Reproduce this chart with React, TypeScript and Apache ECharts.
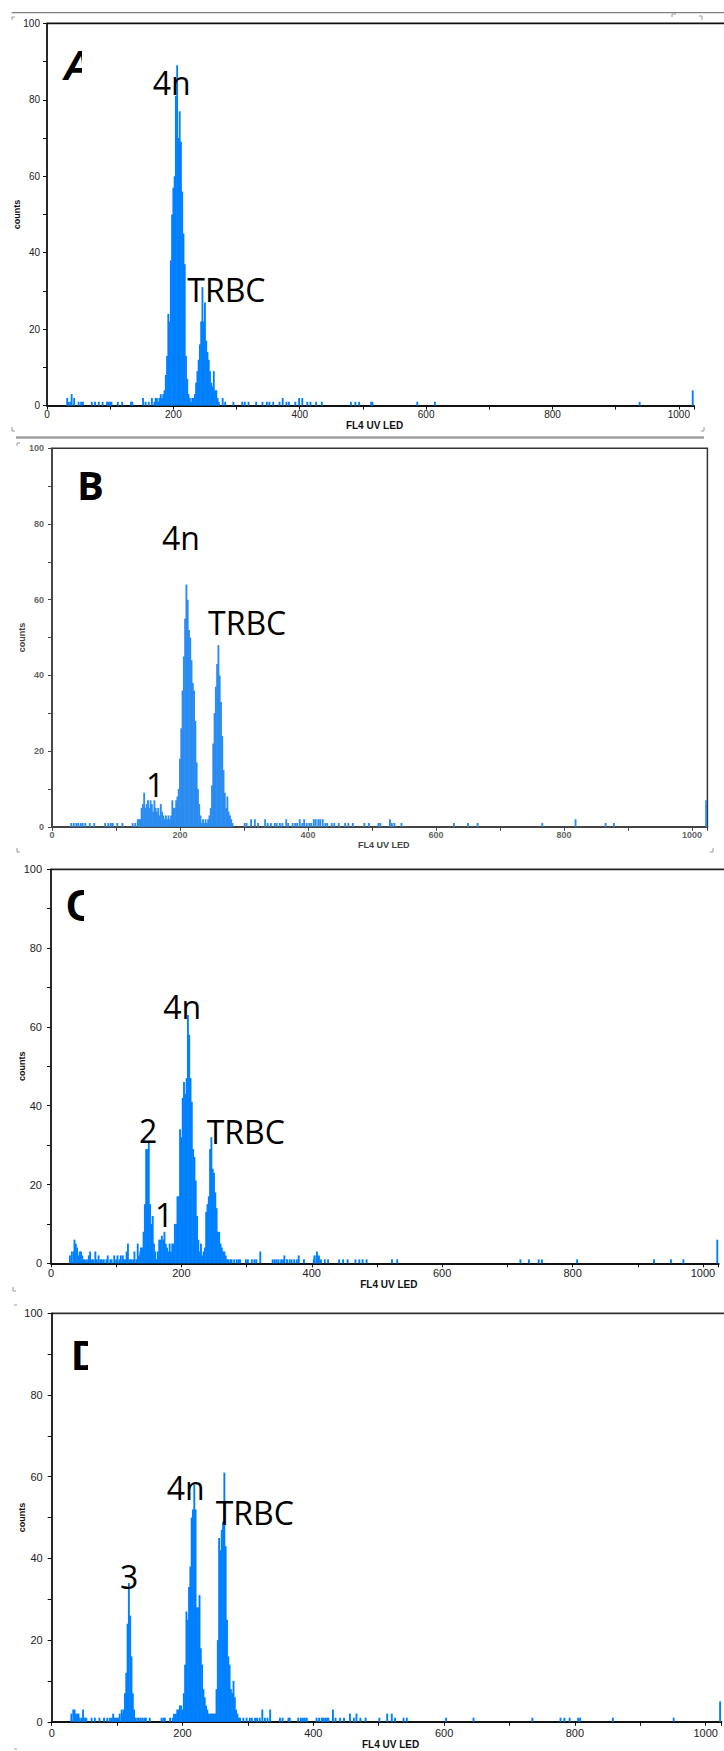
import React, { useEffect, useRef } from "react";
import * as echarts from "echarts";

const BIN = 2;

// ---------- Panel A ----------
const aNoise: [number, number][] = [
  [32, 2], [34, 1], [37, 1], [39, 3], [43, 2], [50, 1], [54, 1], [57, 1], [71, 1], [76, 1],
  [82, 1], [88, 1], [95, 1], [98, 1], [100, 1], [102, 1], [112, 1], [119, 1], [133, 1], [135, 1],
  [152, 2], [156, 1], [161, 1], [166, 2], [278, 2], [282, 1], [295, 1], [309, 1], [313, 1], [319, 1],
  [331, 1], [341, 1], [348, 1], [352, 1], [358, 1], [368, 1], [373, 2], [379, 1], [383, 1], [393, 1],
  [399, 2], [404, 2], [412, 1], [417, 1], [426, 1], [435, 1], [481, 1], [488, 1], [494, 1], [513, 1],
  [515, 1], [586, 1], [614, 1], [938, 1], [1022, 4],
];
const aPeakStart = 170;
const aPeakCounts = [
  1, 2, 2, 1, 2, 3, 2, 3, 4, 8, 13, 24, 22,
  38, 50, 57, 60, 81, 89, 70, 77, 69, 56, 45, 37, 13, 7, 3, 2,
  1, 2, 2, 3, 6, 9, 12, 16, 22, 31, 22, 27, 17, 14, 12, 9, 6, 5, 9, 4, 4, 2, 1,
];

// ---------- Panel B ----------
const bNoise: [number, number][] = [
  [30, 1], [34, 1], [38, 1], [41, 1], [45, 1], [48, 1], [52, 1], [59, 1], [66, 1], [83, 1],
  [88, 1], [92, 1], [95, 1], [102, 1], [110, 1], [126, 1], [301, 1], [304, 1], [311, 2], [317, 2],
  [322, 1], [333, 2], [337, 1], [342, 1], [348, 1], [351, 1], [356, 1], [360, 1], [366, 2], [369, 1],
  [376, 1], [380, 1], [383, 1], [387, 2], [391, 1], [394, 2], [398, 1], [402, 1], [405, 1], [409, 2],
  [412, 2], [416, 2], [419, 2], [423, 2], [427, 1], [430, 1], [437, 1], [441, 1], [448, 1], [458, 1],
  [463, 1], [470, 1], [488, 1], [495, 1], [510, 1], [513, 1], [528, 2], [531, 1], [535, 1], [546, 1],
  [628, 1], [650, 1], [665, 1], [766, 1], [818, 2], [865, 1], [878, 1], [1022, 7],
];
const bPeakStart = 130;
const bPeakCounts = [
  1, 0, 2, 2, 2, 5, 6, 9, 5, 6, 7, 5, 7, 6, 4, 7, 5, 4, 5, 3, 6, 4, 3, 2, 3, 2, 3, 2, 3, 7, 5,
  5, 7, 8, 10, 18, 26, 36, 45, 55, 64, 60, 52, 50, 44, 38, 36, 28, 17, 10, 6, 3, 1,
  2, 1, 2, 1, 2,
  3, 5, 11, 22, 30, 37, 43, 48, 40, 33, 24, 15, 9, 5, 8, 4, 3, 2, 1,
];

// ---------- Panel C ----------
const cNoise: [number, number][] = [
  [29, 2], [32, 3], [35, 3], [36, 6], [38, 5], [40, 4], [42, 2], [44, 3], [46, 3], [48, 2],
  [50, 1], [52, 1], [55, 1], [58, 2], [60, 3], [63, 1], [65, 1], [68, 3], [70, 1], [73, 2],
  [76, 1], [78, 1], [81, 1], [85, 1], [87, 2], [91, 1], [93, 1], [97, 2], [100, 1], [102, 2],
  [105, 1], [107, 2], [110, 2], [112, 1], [115, 1], [116, 3], [118, 5], [121, 1], [123, 1], [126, 1],
  [128, 3], [131, 1], [133, 5], [135, 2], [137, 3],
  [272, 1], [275, 1], [277, 1], [281, 1], [285, 1], [288, 1], [290, 1], [299, 1], [302, 1], [308, 1],
  [312, 1], [315, 1], [321, 3], [340, 1], [343, 1], [346, 1], [349, 1], [353, 1], [356, 1], [358, 2],
  [362, 1], [366, 1], [369, 1], [373, 1], [377, 1], [380, 2], [388, 1], [403, 1], [404, 2], [407, 2],
  [408, 3], [411, 2], [414, 1], [420, 1], [425, 1], [442, 1], [448, 1], [455, 1], [467, 1], [473, 1],
  [478, 1], [484, 1], [523, 1], [531, 1], [720, 1], [733, 1], [748, 1], [753, 1], [807, 1], [925, 1],
  [951, 1], [970, 1], [1022, 6],
];
const cPeakStart = 138;
const cPeakCounts = [
  4, 4, 8, 15, 29, 29, 31, 15, 10, 12, 5, 3, 1, 3,
  6, 6, 7, 6, 8, 5, 4, 3, 5, 3, 5, 5, 10,
  10, 17, 17, 34, 32, 42, 46, 43, 47, 63, 58, 47, 41, 29, 27, 21, 12, 6, 3, 5, 2, 3, 4,
  13, 15, 17, 29, 32, 24, 23, 18, 14, 8, 8, 5, 4, 3, 3, 2, 1,
];

// ---------- Panel D ----------
const dNoise: [number, number][] = [
  [30, 2], [33, 3], [35, 3], [37, 2], [39, 2], [41, 2], [43, 1], [46, 1], [48, 3], [51, 1],
  [53, 1], [61, 1], [66, 1], [73, 1], [80, 1], [85, 1], [89, 1], [92, 1], [94, 2], [96, 1],
  [98, 1], [100, 1], [102, 1], [104, 2], [107, 3], [131, 1], [133, 1], [136, 1], [139, 1], [142, 1],
  [144, 1], [150, 1], [168, 1], [171, 1], [173, 1], [181, 1], [185, 1], [187, 2], [189, 1],
  [288, 1], [293, 1], [298, 1], [303, 1], [306, 1], [311, 1], [314, 1], [318, 1], [322, 3], [326, 1],
  [330, 1], [334, 3], [349, 1], [353, 1], [362, 1], [364, 1], [377, 1], [381, 1], [384, 1], [387, 1],
  [390, 1], [405, 1], [409, 1], [413, 1], [415, 1], [418, 1], [421, 1], [423, 1], [430, 3], [434, 1],
  [441, 1], [447, 1], [456, 2], [462, 1], [466, 2], [472, 1], [480, 1], [501, 1], [513, 2], [520, 2],
  [525, 1], [538, 1], [543, 1], [603, 1], [645, 1], [735, 1], [778, 1], [784, 1], [792, 1], [805, 1],
  [808, 1], [858, 1], [951, 1], [1022, 5],
];
const dPeak3Start = 108;
const dPeak3Counts = [2, 3, 7, 12, 24, 34, 26, 16, 7, 3, 1];
const dMainStart = 190;
const dMainCounts = [
  2, 3, 3, 4, 4, 3, 7, 14, 27, 25, 33, 38, 50, 52, 58, 52, 28, 28, 31, 18, 14, 8, 6, 4, 3,
  2, 2, 2, 2, 2, 2, 8, 20, 45, 42, 47, 49, 61, 43, 25, 16, 14, 8, 7, 10, 6, 3, 2, 1,
];

const xAxisName = "FL4 UV LED";
const yAxisName = "counts";

function expand(start: number, counts: number[]): [number, number][] {
  return counts.map((c, i) => [start + i * BIN, c] as [number, number]);
}

const panelData: [number, number][][] = [
  [...aNoise, ...expand(aPeakStart, aPeakCounts)],
  [...bNoise, ...expand(bPeakStart, bPeakCounts)],
  [...cNoise, ...expand(cPeakStart, cPeakCounts)],
  [...dNoise, ...expand(dPeak3Start, dPeak3Counts), ...expand(dMainStart, dMainCounts)],
];

const grids = [
  { left: 47, top: 23.3, width: 647, height: 382.3 },
  { left: 52, top: 448.3, width: 655.4, height: 378.5 },
  { left: 51, top: 869.3, width: 667.6, height: 394 },
  { left: 51.7, top: 1313.3, width: 669.7, height: 408.5 },
];

const styles = [
  { color: "#0080ff", labelSize: 10, labelColor: "#222", labelWeight: "normal", line: "#111", xMargin: 4, yMargin: 7, nameGap: 15, nameSize: 10, nameColor: "#111", yNameGap: 26 },
  { color: "#2a8cf0", labelSize: 9, labelColor: "#666", labelWeight: "bold", line: "#444", xMargin: 4, yMargin: 8, nameGap: 14, nameSize: 9, nameColor: "#444", yNameGap: 26 },
  { color: "#0080ff", labelSize: 11, labelColor: "#222", labelWeight: "normal", line: "#111", xMargin: 4, yMargin: 9, nameGap: 16, nameSize: 10, nameColor: "#111", yNameGap: 25 },
  { color: "#0080ff", labelSize: 11, labelColor: "#222", labelWeight: "normal", line: "#111", xMargin: 6, yMargin: 9, nameGap: 17, nameSize: 10, nameColor: "#111", yNameGap: 25 },
];

function txt(text: string, x: number, y: number, font: string, z = 10) {
  return {
    type: "text",
    z,
    style: {
      text, x, y, font, fill: "#000",
      align: "left", verticalAlign: "middle",
      textAlign: "left", textVerticalAlign: "middle",
    },
  };
}
function hline(x1: number, y: number, x2: number, stroke: string, lineWidth: number) {
  return { type: "line", shape: { x1, y1: y, x2, y2: y }, style: { stroke, lineWidth } };
}
function mark(points: number[][]) {
  return { type: "polyline", shape: { points }, style: { stroke: "#9a9a9a", lineWidth: 1, fill: null } };
}
function mask(x: number, y: number, w: number, h: number) {
  return { type: "rect", z: 11, shape: { x, y, width: w, height: h }, style: { fill: "#fff" } };
}

const LABEL_FONT = '32px "Open Sans"';

export default function App() {
  const ref = useRef<HTMLDivElement>(null);
  useEffect(() => {
    document.body.style.margin = "0";
    if (!ref.current) return;
    const chart = echarts.init(ref.current, null, { renderer: "svg" });

    const option: any = {
      animation: false,
      backgroundColor: "#fff",
      grid: grids.map((g, i) => ({
        ...g,
        outerBoundsMode: "none",
        containLabel: false,
        show: i === 1,
        borderColor: "#333",
        borderWidth: 1.5,
        backgroundColor: "transparent",
      })),
      xAxis: grids.map((_, i) => {
        const s = styles[i];
        return {
          type: "value",
          gridIndex: i,
          min: 0,
          max: 1024,
          interval: 100,
          name: xAxisName,
          nameLocation: "middle",
          nameGap: s.nameGap,
          nameTextStyle: { fontFamily: "Liberation Sans", fontWeight: "bold", fontSize: s.nameSize, color: s.nameColor, padding: [0, 0, 0, 8] },
          axisLine: { show: true, onZero: false, lineStyle: { color: s.line, width: 2 } },
          axisTick: { show: true, inside: false, length: 4, lineStyle: { color: s.line, width: 1 } },
          axisLabel: {
            margin: s.xMargin,
            fontSize: s.labelSize,
            fontWeight: s.labelWeight,
            color: s.labelColor,
            fontFamily: "Liberation Sans",
            formatter: (v: number) => (v % 200 === 0 && v <= 1000 ? String(v) : ""),
          },
          splitLine: { show: false },
        };
      }),
      yAxis: grids.map((_, i) => {
        const s = styles[i];
        return {
          type: "value",
          gridIndex: i,
          min: 0,
          max: 100,
          interval: 10,
          name: yAxisName,
          nameLocation: "middle",
          nameGap: s.yNameGap,
          nameMoveOverlap: false,
          nameRotate: 90,
          nameTextStyle: { fontFamily: "Liberation Sans", fontWeight: "bold", fontSize: 9, color: s.nameColor },
          axisLine: { show: true, onZero: false, lineStyle: { color: s.line, width: 1.8 } },
          axisTick: { show: true, inside: false, length: 4, lineStyle: { color: s.line, width: 1 } },
          axisLabel: {
            margin: s.yMargin,
            fontSize: s.labelSize,
            fontWeight: s.labelWeight,
            color: s.labelColor,
            fontFamily: "Liberation Sans",
            formatter: (v: number) => (v % 20 === 0 ? String(v) : ""),
          },
          splitLine: { show: false },
        };
      }),
      series: panelData.map((data, i) => ({
        type: "custom",
        xAxisIndex: i,
        yAxisIndex: i,
        encode: { x: 0, y: 1 },
        data,
        renderItem: (params: any, api: any) => {
          const ch = api.value(0);
          const cnt = api.value(1);
          const p0 = api.coord([ch - BIN / 2, cnt]);
          const p1 = api.coord([ch + BIN / 2, 0]);
          return {
            type: "rect",
            shape: { x: p0[0] - 0.3, y: p0[1], width: p1[0] - p0[0] + 0.6, height: p1[1] - p0[1] },
            style: { fill: styles[i].color },
          };
        },
      })),
      graphic: {
        elements: [
          hline(47, 23.3, 724, "#111", 1.8),
          hline(51, 869.3, 724, "#222", 1.8),
          hline(51.7, 1313.3, 724, "#333", 1.8),
          hline(11.7, 12.7, 724, "#808080", 1.3),
          hline(16, 437.5, 704, "#a0a0a0", 2.5),
          mark([[12, 20], [12, 17], [15, 17]]),
          mark([[672, 17], [672, 14], [676, 14]]),
          mark([[699, 16], [702, 16], [702, 20]]),
          mark([[12, 427], [12, 431], [15, 431]]),
          mark([[701, 431], [704, 431], [704, 427]]),
          mark([[17, 446], [17, 443], [20, 443]]),
          mark([[17, 848], [17, 852], [20, 852]]),
          mark([[710, 852], [713, 852], [713, 848]]),
          mark([[13, 1287], [13, 1291], [16, 1291]]),
          mark([[14, 1305], [17, 1305]]),
          mark([[14, 1749], [17, 1749]]),
          txt("A", 63, 65, 'italic bold 42px "Liberation Sans"'),
          mask(82, 40, 40, 50),
          txt("B", 77, 484.5, 'bold 40px "Open Sans"'),
          txt("C", 66, 905, 'bold 44px "Liberation Sans"'),
          mask(84, 880, 30, 50),
          txt("D", 71.6, 1355, 'bold 42px "Liberation Sans"'),
          mask(88, 1330, 30, 50),
          txt("4n", 152.7, 82.5, LABEL_FONT),
          txt("TRBC", 187.3, 289.5, LABEL_FONT),
          txt("4n", 162, 537, LABEL_FONT),
          txt("TRBC", 208, 622, LABEL_FONT),
          txt("1", 146, 784, LABEL_FONT),
          txt("4n", 163.3, 1006.7, LABEL_FONT),
          txt("2", 139, 1130.5, LABEL_FONT),
          txt("1", 155, 1214.2, LABEL_FONT),
          txt("TRBC", 206.7, 1131.3, LABEL_FONT),
          txt("3", 120, 1576.7, LABEL_FONT),
          txt("4n", 166.7, 1487.5, LABEL_FONT),
          txt("TRBC", 215.7, 1512, LABEL_FONT),
        ],
      },
    };

    chart.setOption(option);
    return () => chart.dispose();
  }, []);

  return <div ref={ref} style={{ width: 724, height: 1751 }} />;
}
